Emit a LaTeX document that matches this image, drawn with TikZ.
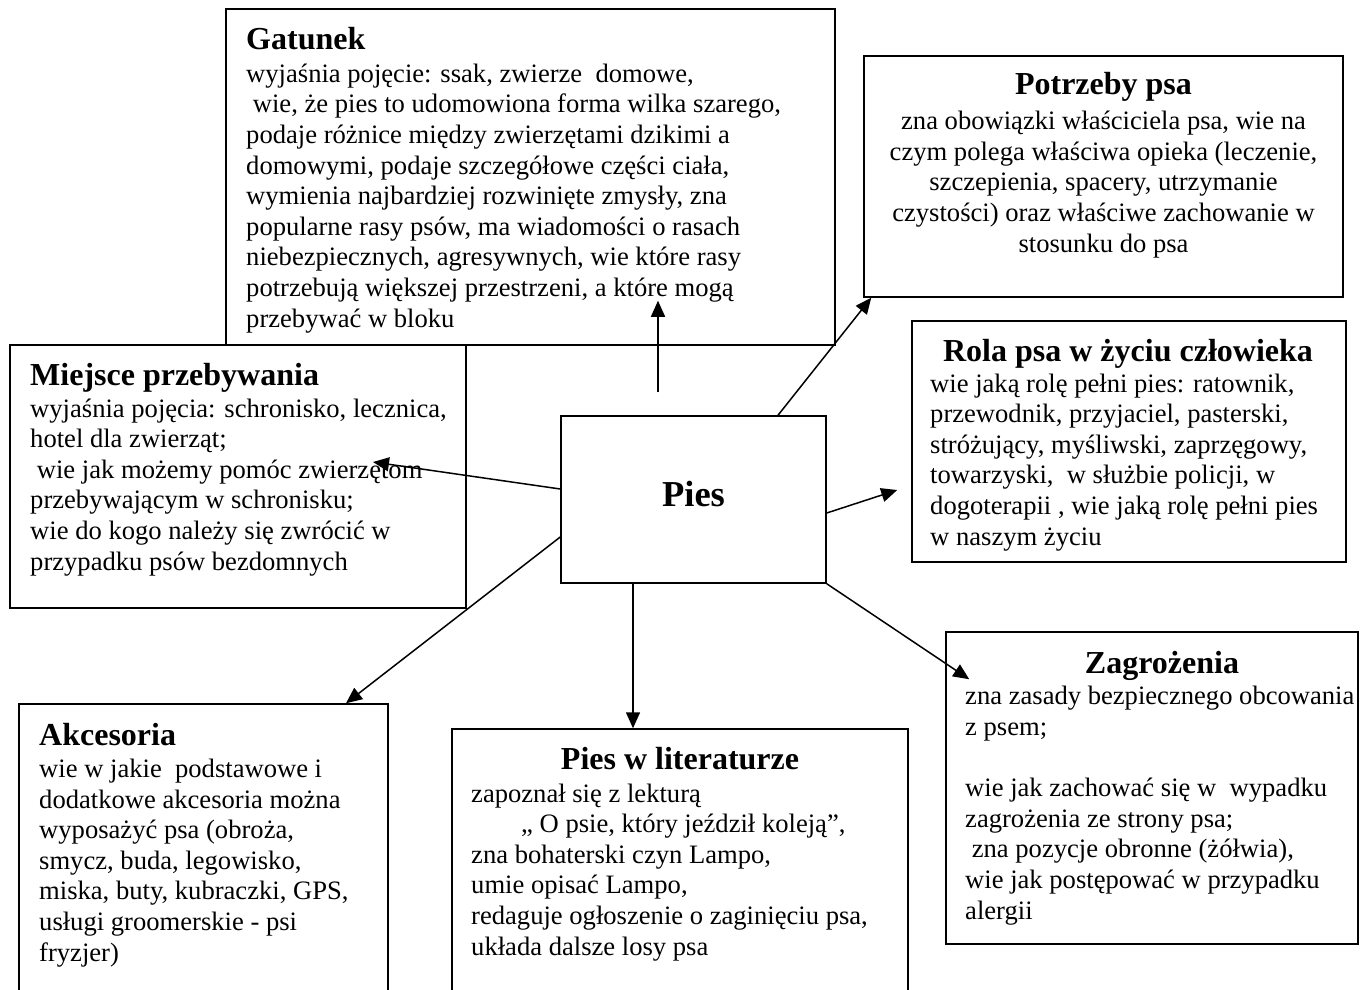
\documentclass[tikz,border=0pt]{standalone}
\usepackage{fontspec}
\setmainfont{Liberation Serif}
\usetikzlibrary{arrows.meta}

\begin{document}
\begin{tikzpicture}[x=1pt,y=-1pt,
  box/.style={draw,line width=1.5pt,inner sep=0pt},
  head/.style={font=\fontsize{32}{36}\selectfont\bfseries,inner sep=0pt},
  body/.style={font=\fontsize{26.6}{30.6}\selectfont,align=left,inner sep=0pt,anchor=base west},
  arr/.style={line width=1.5pt,-{Triangle[length=16pt,width=14pt]}}]
  \useasboundingbox (0,0) rectangle (1360,990);
  \clip (0,0) rectangle (1360,990);
  % boxes
  \node[box,minimum width=609,minimum height=336] (gat) at (530.5,177) {};
  \node[box,minimum width=479,minimum height=241] (pot) at (1103.5,176.5) {};
  \node[box,minimum width=456,minimum height=263] (mie) at (238,476.5) {};
  \node[box,minimum width=265,minimum height=167] (pies) at (693.5,499.5) {};
  \node[box,minimum width=434,minimum height=241] (rola) at (1129,441.5) {};
  \node[box,minimum width=369,minimum height=306] (akc) at (203.5,857) {};
  \node[box,minimum width=456,minimum height=281] (lit) at (680,869.5) {};
  \node[box,minimum width=412,minimum height=312] (zag) at (1152,788) {};
  % texts (body nodes sit on the baseline of their last line)
  \node[head,font=\fontsize{36.5}{42}\selectfont\bfseries,anchor=base] (piest) at (693.5,506) {Pies};
  \node[head,anchor=base west] (gath) at (246,50) {Gatunek};
  \node[body] (gatb) at (246,327) {wyjaśnia pojęcie: ssak, zwierze\ \ domowe,\\
    \ wie, że pies to udomowiona forma wilka szarego,\\
    podaje różnice między zwierzętami dzikimi a\\
    domowymi, podaje szczegółowe części ciała,\\
    wymienia najbardziej rozwinięte zmysły, zna\\
    popularne rasy psów, ma wiadomości o rasach\\
    niebezpiecznych, agresywnych, wie które rasy\\
    potrzebują większej przestrzeni, a które mogą\\
    przebywać w bloku};
  \node[head,anchor=base] (poth) at (1103.5,95) {Potrzeby psa};
  \node[body,align=center,anchor=base] (potb) at (1103.5,252) {zna obowiązki właściciela psa, wie na\\
    czym polega właściwa opieka (leczenie,\\
    szczepienia, spacery, utrzymanie\\
    czystości) oraz właściwe zachowanie w\\
    stosunku do psa};
  \node[head,anchor=base] (rolah) at (1128,361) {Rola psa w życiu człowieka};
  \node[body] (rolab) at (930,545) {wie jaką rolę pełni pies: ratownik,\\
    przewodnik, przyjaciel, pasterski,\\
    stróżujący, myśliwski, zaprzęgowy,\\
    towarzyski,\ \ w służbie policji, w\\
    dogoterapii , wie jaką rolę pełni pies\\
    w naszym życiu};
  \node[head,anchor=base west] (mieh) at (30,385) {Miejsce przebywania};
  \node[body] (mieb) at (30,570) {wyjaśnia pojęcia: schronisko, lecznica,\\
    hotel dla zwierząt;\\
    \ wie jak możemy pomóc zwierzętom\\
    przebywającym w schronisku;\\
    wie do kogo należy się zwrócić w\\
    przypadku psów bezdomnych};
  \node[head,anchor=base west] (akch) at (39,745) {Akcesoria};
  \node[body] (akcb) at (39,961) {wie w jakie\ \ podstawowe i\\
    dodatkowe akcesoria można\\
    wyposażyć psa (obroża,\\
    smycz, buda, legowisko,\\
    miska, buty, kubraczki, GPS,\\
    usługi groomerskie - psi\\
    fryzjer)};
  \node[head,anchor=base] (lith) at (680,769) {Pies w literaturze};
  \node[body] (litb) at (471,955) {zapoznał się z lekturą\\
    \hspace*{50pt}„ O psie, który jeździł koleją”,\\
    zna bohaterski czyn Lampo,\\
    umie opisać Lampo,\\
    redaguje ogłoszenie o zaginięciu psa,\\
    układa dalsze losy psa};
  \node[head,anchor=base] (zagh) at (1162,673) {Zagrożenia};
  \node[body] (zagb) at (965,919) {zna zasady bezpiecznego obcowania\\
    z psem;\\[30.6pt]
    wie jak zachować się w\ \ wypadku\\
    zagrożenia ze strony psa;\\
    \ zna pozycje obronne (żółwia),\\
    wie jak postępować w przypadku\\
    alergii};
  % arrows
  \draw[arr] ([xshift=-35.5pt,yshift=23pt]pies.north) -- ([xshift=127.5pt,yshift=45pt]gat.south);
  \draw[arr] ([xshift=84.5pt]pies.north) -- ([xshift=8pt]pot.south west);
  \draw[arr] ([yshift=10.5pt]pies.west) -- ([xshift=135pt,yshift=14.5pt]mie.center);
  \draw[arr] ([yshift=-13.5pt]pies.east) -- ([xshift=-14pt,yshift=-48.5pt]rola.west);
  \draw[arr] ([yshift=-37.5pt]pies.west) -- ([xshift=142.5pt]akc.north);
  \draw[arr] ([xshift=-60.5pt]pies.south) -- ([xshift=-60.5pt]pies.south |- lit.north);
  \draw[arr] (pies.south east) -- ([xshift=24pt,yshift=-48pt]zag.north west);
\end{tikzpicture}
\end{document}
